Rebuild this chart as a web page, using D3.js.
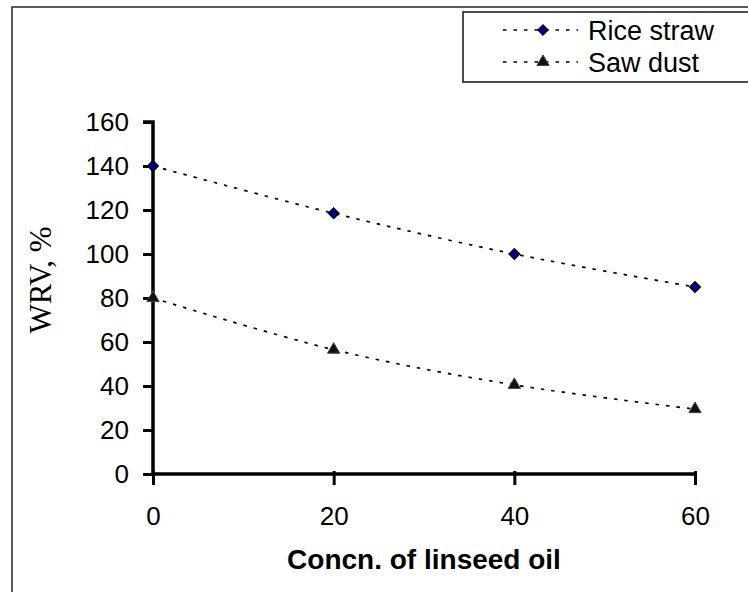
<!DOCTYPE html>
<html><head><meta charset="utf-8">
<script src="https://cdn.jsdelivr.net/npm/d3@7"></script>
<style>body{margin:0;background:#fff}svg{display:block}</style>
</head><body>
<script>
const xValues = [0, 20, 40, 60];
const riceStraw = [140, 118.5, 100, 85];
const sawDust = [80, 56.5, 40.5, 29.5];
const yTicks = [0, 20, 40, 60, 80, 100, 120, 140, 160];
const xTicks = [0, 20, 40, 60];
const seriesNames = ["Rice straw", "Saw dust"];

const W = 748, H = 592;
const sans = "Liberation Sans, Arial, sans-serif";
const svg = d3.select("body").append("svg").attr("width", W).attr("height", H);

// outer frame
svg.append("rect").attr("x", 12).attr("y", 7).attr("width", W + 20).attr("height", H + 20)
  .attr("fill", "none").attr("stroke", "#333").attr("stroke-width", 1.6);

const x = d3.scaleLinear().domain([0, 60]).range([153, 695]);
const y = d3.scaleLinear().domain([0, 160]).range([474, 122]);

// y axis
const yAxis = d3.axisLeft(y).tickValues(yTicks).tickSize(10).tickPadding(14);
const gy = svg.append("g").attr("transform", "translate(153,0)").call(yAxis);
gy.select(".domain").attr("stroke", "#000").attr("stroke-width", 3.5).attr("d", `M-10,${y(160)}H0V${y(0)}`);
gy.selectAll(".tick line").attr("stroke", "#000").attr("stroke-width", 3);
gy.selectAll(".tick text").attr("font-family", sans).attr("font-size", 26).attr("fill", "#000");

// x axis
const xAxis = d3.axisBottom(x).tickValues(xTicks).tickSize(11).tickPadding(0);
const gx = svg.append("g").attr("transform", "translate(0,474)").call(xAxis);
gx.select(".domain").attr("stroke", "#000").attr("stroke-width", 3.5).attr("d", `M${x(0)},0H${x(60)}`);
gx.selectAll(".tick line").attr("stroke", "#000").attr("stroke-width", 3).attr("y1", -3);
gx.selectAll(".tick text").attr("font-family", sans).attr("font-size", 26).attr("fill", "#000")
  .attr("y", 51).attr("dy", null);

// axis titles
svg.append("text").attr("x", 424).attr("y", 569).attr("text-anchor", "middle")
  .attr("font-family", sans).attr("font-weight", "bold").attr("font-size", 28)
  .text("Concn. of linseed oil");
svg.append("text").attr("transform", "translate(51,280) rotate(-90)").attr("text-anchor", "middle")
  .attr("font-family", "Liberation Serif, Times New Roman, serif").attr("font-size", 31)
  .text("WRV, %");

// lines
const line = d3.line().x((d, i) => x(xValues[i])).y(d => y(d)).curve(d3.curveCatmullRom.alpha(0.5));
[riceStraw, sawDust].forEach(s => {
  svg.append("path").attr("d", line(s)).attr("fill", "none").attr("stroke", "#000")
    .attr("stroke-width", 1.7).attr("stroke-dasharray", "3.5,7");
});

const diamond = d3.symbol().type(d3.symbolDiamond2).size(75);
const triangle = d3.symbol().type(d3.symbolTriangle).size(65);

svg.append("g").selectAll("path").data(riceStraw).join("path")
  .attr("transform", (d, i) => `translate(${x(xValues[i])},${y(d)})`)
  .attr("d", diamond).attr("fill", "#000080").attr("stroke", "#000").attr("stroke-width", 1.2);
svg.append("g").selectAll("path").data(sawDust).join("path")
  .attr("transform", (d, i) => `translate(${x(xValues[i])},${y(d)})`)
  .attr("d", triangle).attr("fill", "#111").attr("stroke", "#444").attr("stroke-width", 1);

// legend
svg.append("rect").attr("x", 463).attr("y", 12).attr("width", 320).attr("height", 70)
  .attr("fill", "#fff").attr("stroke", "#222").attr("stroke-width", 1.6);
const legY = [30, 62];
seriesNames.forEach((n, i) => {
  const g = svg.append("g");
  g.append("line").attr("x1", 503).attr("x2", 578).attr("y1", legY[i]).attr("y2", legY[i])
    .attr("stroke", "#000").attr("stroke-width", 1.7).attr("stroke-dasharray", "3.5,7");
  g.append("path").attr("transform", `translate(543,${legY[i]})`)
    .attr("d", i ? triangle : diamond).attr("fill", i ? "#111" : "#000080")
    .attr("stroke", i ? "#444" : "#000").attr("stroke-width", 1);
  g.append("text").attr("x", 588).attr("y", legY[i] + 10)
    .attr("font-family", sans).attr("font-size", 27).text(n);
});
</script>
</body></html>
